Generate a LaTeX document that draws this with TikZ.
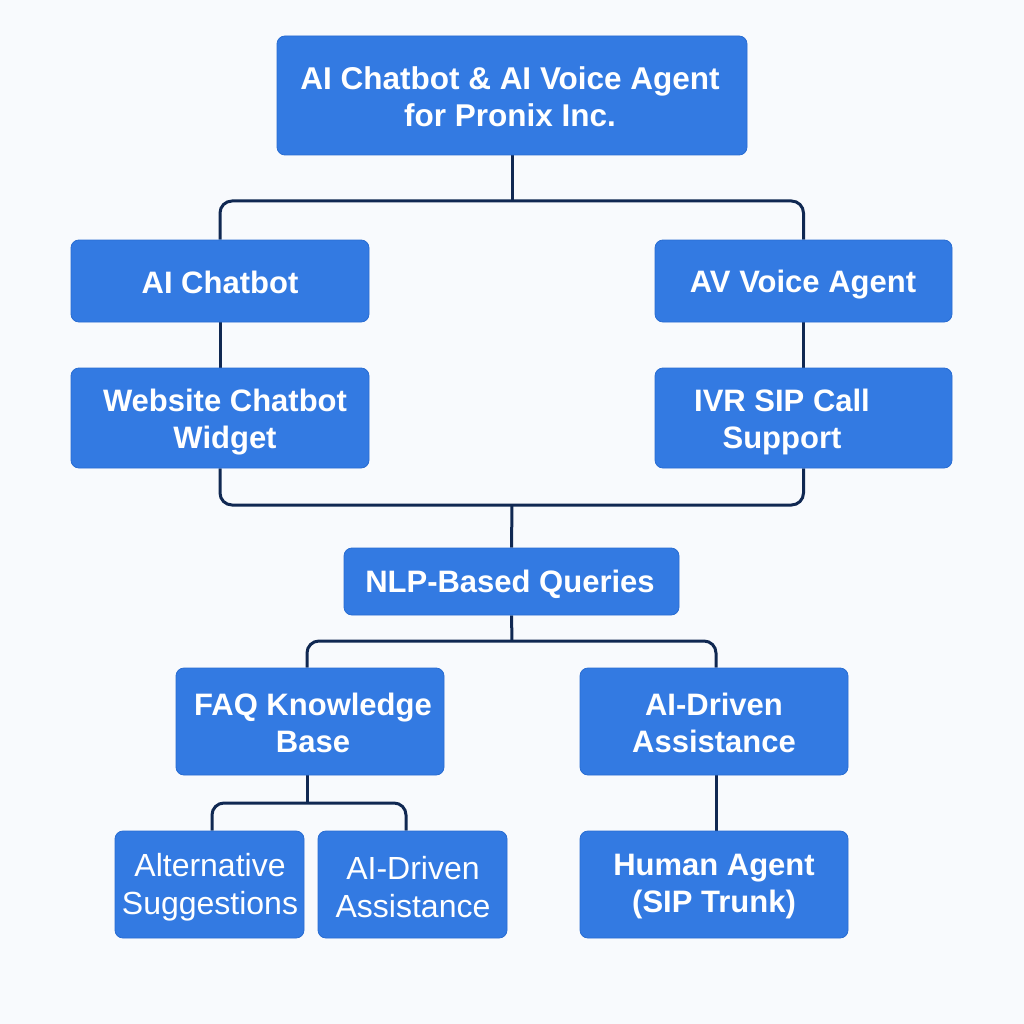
\documentclass[tikz,border=0pt]{standalone}
\usepackage{fontspec}
\setmainfont{Liberation Sans}
\definecolor{boxblue}{RGB}{51,122,226}
\definecolor{boxedge}{RGB}{40,108,210}
\definecolor{linenavy}{RGB}{16,40,82}
\definecolor{bgc}{RGB}{248,250,253}
\pgfdeclarelayer{bg}
\pgfsetlayers{bg,main}
\begin{document}
\begin{tikzpicture}[x=1pt,y=-1pt,
  box/.style={draw=boxedge,line width=0.8pt,fill=boxblue,rounded corners=8pt,inner sep=0pt},
  txt/.style={text=white,font=\fontsize{31}{37}\selectfont\bfseries,align=center,inner sep=0pt},
  txtr/.style={text=white,font=\fontsize{32}{38}\selectfont,align=center,inner sep=0pt},
  conn/.style={draw=linenavy,line width=3pt,rounded corners=12pt}]
\begin{pgfonlayer}{bg}
\fill[bgc] (0,0) rectangle (1024,1024);
\end{pgfonlayer}
\useasboundingbox (0,0) rectangle (1024,1024);
% boxes
\node[box,minimum width=470pt,minimum height=119pt] (top) at (512,95.5) {};
\node[box,minimum width=298pt,minimum height=82pt] (chat) at (220,281) {};
\node[box,minimum width=297pt,minimum height=82pt] (av) at (803.5,281) {};
\node[box,minimum width=298pt,minimum height=100pt] (web) at (220,418) {};
\node[box,minimum width=297pt,minimum height=100pt] (ivr) at (803.5,418) {};
\node[box,minimum width=335pt,minimum height=67pt] (nlp) at (511.5,581.5) {};
\node[box,minimum width=268pt,minimum height=107pt] (faq) at (310,721.5) {};
\node[box,minimum width=268pt,minimum height=107pt] (aid) at (714,721.5) {};
\node[box,minimum width=189pt,minimum height=107pt] (alt) at (209.5,884.5) {};
\node[box,minimum width=189pt,minimum height=107pt] (aid2) at (412.5,884.5) {};
\node[box,minimum width=268pt,minimum height=107pt] (hum) at (714,884.5) {};
% texts
\node[txt,font=\fontsize{31.5}{37}\selectfont\bfseries] (ttop) at (510,97) {AI Chatbot \& AI Voice Agent\\for Pronix Inc.};
\node[txt] (tchat) at (220,282) {AI Chatbot};
\node[txt] (tav) at (803,285) {AV Voice Agent};
\node[txt] (tweb) at (225,422) {Website Chatbot\\Widget};
\node[txt] (tivr) at (782,422) {IVR SIP Call\\Support};
\node[txt] (tnlp) at (510,584) {NLP-Based Queries};
\node[txt] (tfaq) at (313,723) {FAQ Knowledge\\Base};
\node[txt] (taid) at (714,723) {AI-Driven\\Assistance};
\node[txtr] (talt) at (210,887) {Alternative\\Suggestions};
\node[txtr] (taid2) at (413,887) {AI-Driven\\Assistance};
\node[txt] (thum) at (714,887) {Human Agent\\(SIP Trunk)};
% junctions
\coordinate (j1) at (512,201);
\coordinate (j2) at (512,505);
\coordinate (j3) at (512,641);
\coordinate (j4) at (307,803);
% connectors
\begin{pgfonlayer}{bg}
\draw[conn] (top.south) -- (j1);
\draw[conn] (chat.north) |- (j1) -| (av.north);
\draw[conn] (chat.south) -- (web.north);
\draw[conn] (av.south) -- (ivr.north);
\draw[conn] (web.south) |- (j2) -| (ivr.south);
\draw[conn] (j2) -- (nlp.north);
\draw[conn] (nlp.south) -- (j3);
\draw[conn] ([xshift=-3pt]faq.north) |- (j3) -| ([xshift=2pt]aid.north);
\draw[conn] ([xshift=-3pt]faq.south) -- (j4);
\draw[conn] ([xshift=2.5pt]alt.north) |- (j4) -| ([xshift=-6.5pt]aid2.north);
\draw[conn] ([xshift=2pt]aid.south) -- ([xshift=2pt]hum.north);
\end{pgfonlayer}
\end{tikzpicture}
\end{document}
